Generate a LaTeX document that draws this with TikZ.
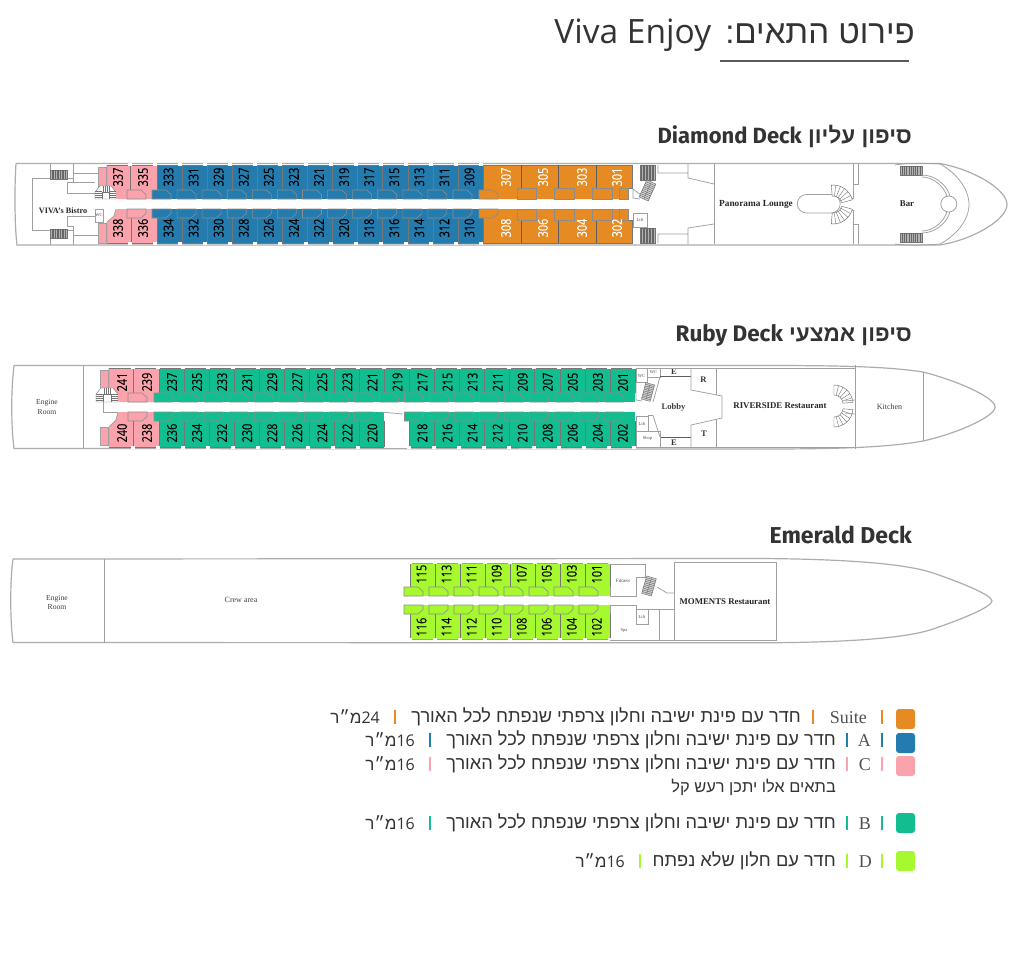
\documentclass[tikz,border=0pt]{standalone}
\usepackage{fontspec}
\usetikzlibrary{calc}
\TeXXeTstate=1
\setmainfont{Liberation Serif}
\newfontfamily\hebf[Script=Hebrew]{Liberation Sans}
\newfontfamily\latf{Open Sans}
\newfontfamily\headf{Fira Sans}
\newfontfamily\numf[FakeStretch=0.8,FakeBold=0.1]{Open Sans}
\definecolor{cOr}{HTML}{E68A23}
\definecolor{cBl}{HTML}{237BAE}
\definecolor{cPk}{HTML}{FBA3AC}
\definecolor{cGr}{HTML}{12BE90}
\definecolor{cLi}{HTML}{A6F92E}
\definecolor{hullc}{HTML}{ADADAD}
\definecolor{wallc}{HTML}{A0A0A0}
\definecolor{divc}{HTML}{767676}
\definecolor{inkc}{HTML}{333333}
\tikzset{
  hull/.style={draw=hullc,line width=1.2pt},
  wall/.style={draw=wallc,line width=0.75pt},
  divl/.style={draw=divc,line width=0.6pt},
  darkw/.style={draw=divc!80!black,line width=0.85pt},
  bathb/.style={draw=black!45,line width=0.6pt},
  num/.style={rotate=90,font=\numf\fontsize{13.6}{14}\selectfont,inner sep=0pt},
  roomb/.style={font=\bfseries\fontsize{8.8}{9}\selectfont,inner sep=0pt,text=black!85},
  roomr/.style={font=\fontsize{7.6}{8.6}\selectfont,inner sep=0pt,align=center,text=black!75},
  rooms/.style={font=\fontsize{4.5}{5}\selectfont,inner sep=0pt,text=black!70},
  letter/.style={font=\bfseries\fontsize{8.5}{9}\selectfont,inner sep=0pt,text=black!80},
  head/.style={anchor=east,inner sep=0pt,text=inkc},
  lgh/.style={anchor=east,inner sep=0pt,text=inkc,font=\hebf\fontsize{18.2}{20}\selectfont},
  lgl/.style={anchor=east,inner sep=0pt,text=inkc!85,font=\fontsize{18}{20}\selectfont},
  lgm/.style={anchor=east,inner sep=0pt,text=inkc,font=\fontsize{16}{18}\selectfont},
}
\newcommand\bath[4]{% x, inner y, edge y, colour
  \draw[bathb,fill=#4] (#1,#2) -- ({#1+14},#2) -- ({#1+19},{(#2+#3)/2}) -- ({#1+19},#3) -- (#1,#3) -- cycle;}
\newcommand\tick[2]{\fill[white] ({#1-2},{#2-1.2}) rectangle ({#1+2},{#2+1.2});}
\newcommand\stairsh[4]{% x,y,w,h
  \draw[draw=black!55,fill=black!30,line width=0.4pt] (#1,#2) rectangle ({#1+#3},{#2+#4});
  \foreach \i in {1,...,9}{\draw[black!60,line width=0.3pt] ({#1+#3*\i/10},#2) -- ({#1+#3*\i/10},{#2+#4});}}
\newcommand\stairsr[5]{% cx,cy,angle,w,h
  \begin{scope}[shift={(#1,#2)},rotate=#3]
    \draw[black!60,fill=black!18,line width=0.4pt] ({-#4/2},{-#5/2}) rectangle ({#4/2},{#5/2});
    \foreach \i in {1,...,9}{\draw[black!65,line width=0.35pt] ({-#4/2+#4*\i/10},{-#5/2}) -- ({-#4/2+#4*\i/10},{#5/2});}
    \draw[black!60,line width=0.3pt] ({-#4/2},0) -- ({#4/2},0);
  \end{scope}}
\newcommand\fan[6]{% cx,cy,r1,r2,a1,a2
  \draw[black!60,line width=0.4pt,fill=white] ($(#1,#2)+(#5:#3)$) arc[start angle=#5,end angle=#6,radius=#3] -- ($(#1,#2)+(#6:#4)$) arc[start angle=#6,end angle=#5,radius=#4] -- cycle;
  \foreach \i in {1,...,5}{\draw[black!60,line width=0.35pt] ($(#1,#2)+({#5+(#6-#5)*\i/6}:#3)$) -- ($(#1,#2)+({#5+(#6-#5)*\i/6}:#4)$);}}
\newcommand\spiral[4]{% x y w h rounded stair block
  \draw[black!55,line width=0.4pt,fill=white] (#1,{#2+#4}) -- (#1,{#2+6}) -- ({#1+5},#2) -- ({#1+#3-5},#2) -- ({#1+#3},{#2+6}) -- ({#1+#3},{#2+#4}) -- cycle;
  \foreach \i in {1,2,3,4}{\draw[black!55,line width=0.3pt] (#1,{#2+#4-\i*2}) -- ({#1+7},{#2+#4-\i*2});\draw[black!55,line width=0.3pt] ({#1+#3-7},{#2+#4-\i*2}) -- ({#1+#3},{#2+#4-\i*2});}
  \foreach \i in {8,10,12,14}{\draw[black!55,line width=0.3pt] ({#1+\i},#2) -- ({#1+\i},{#2+6});}
  \draw[black!55,line width=0.4pt] ({#1+7},{#2+6}) -- ({#1+#3-7},{#2+6}) ({#1+7},{#2+6}) -- ({#1+7},{#2+#4}) ({#1+#3-7},{#2+6}) -- ({#1+#3-7},{#2+#4});}
\newcommand\cabrow[6]{% list,x0,step,y,colour of text,unused
  \foreach \n [count=\k from 0] in {#1}{\node[num,text=#5] (c\n) at ({#2+#3*\k},#4) {\n};}}
\newcommand\dividers[5]{% x0,step,count,y1,y2
  \foreach \k in {0,...,#3}{\draw[divl] ({#1+#2*\k},#4) -- ({#1+#2*\k},#5);}}
\newcommand\ticks[4]{\foreach \k in {0,...,#3}{\tick{#1+#2*\k}{#4}}}
\newcommand\hebsuite{חדר עם פינת ישיבה וחלון צרפתי שנפתח לכל האורך}
\begin{document}
\begin{tikzpicture}[x=1pt,y=-1pt]
\useasboundingbox (0,0) rectangle (1016,970);
\fill[white] (0,0) rectangle (1016,970);
% ===== heading
\node[head,font=\hebf\fontsize{33}{36}\selectfont] (title) at (915,35) {\beginR פירוט התאים:\ \hspace{5pt}\beginL{\latf\fontsize{33.5}{36}\selectfont Viva Enjoy}\endL\endR};
\coordinate (ula) at (720,61); \coordinate (ulb) at (909,61);
\draw[black!65,line width=1.1pt] (ula) -- (ulb);
\node[head,font=\hebf\bfseries\fontsize{22.5}{24}\selectfont] (hA) at (912,136) {\beginR סיפון עליון \beginL{\headf\bfseries\fontsize{22}{24}\selectfont Diamond Deck}\endL\endR};
\node[head,font=\hebf\bfseries\fontsize{22.5}{24}\selectfont] (hB) at (912,335.5) {\beginR סיפון אמצעי \beginL{\headf\bfseries\fontsize{22.5}{24}\selectfont Ruby Deck}\endL\endR};
\node[head,font=\headf\bfseries\fontsize{23}{24}\selectfont] (hC) at (912,534.5) {Emerald Deck};

% ===== DIAMOND DECK
\draw[hull] (16,163.5) -- (940,163.5) .. controls (975,170) and (1007,190) .. (1007,204.5) .. controls (1007,219) and (975,239) .. (940,245) -- (17,245) .. controls (14.5,225) and (14.5,185) .. (16,163.5);
\draw[wall] (895,165) .. controls (905,163) and (925,163) .. (940,164) .. controls (955,172) and (969,188) .. (969,204.5) .. controls (969,221) and (955,236) .. (940,244) .. controls (925,245.5) and (905,245.5) .. (895,244);
% left part
\draw[wall] (50,164) -- (50,178) (32,178) -- (50,178) (32,178) -- (32,230) -- (50,230) -- (50,245);
\draw[wall] (67,178) -- (73,178) (73,164) -- (73,182) -- (67,182) -- (67,193) -- (95,193) (73,173) -- (98,173) (73,182) -- (95,182);
\draw[wall] (67,230) -- (73,230) (73,245) -- (73,226) -- (67,226) -- (67,216) -- (95,216) (73,235) -- (98,235);
\stairsh{50}{170}{17}{9}
\stairsh{50}{229}{17}{9}
\node[roomb,font=\bfseries\fontsize{8.2}{9}\selectfont] (bistro) at (63,211) {VIVA's Bistro};
\draw[wall,fill=white] (95,209) rectangle (103,222);
\node[rooms] (wcA) at (99,215.5) {WC};
% pink zone
\fill[cPk] (98,167) rectangle (106,188);
\fill[cPk] (98,223) rectangle (106,243);
\draw[wall] (98,167) rectangle (106,188) (98,223) rectangle (106,243);
\fill[cPk,rounded corners=1.5pt] (107,165) -- (107,187) -- (114,192) -- (116,199) -- (157,199) -- (157,165) -- cycle;
\fill[cPk,rounded corners=1.5pt] (116,209) -- (114,216) -- (107,222) -- (107,243) -- (157,243) -- (157,209) -- cycle;
\draw[wall] (107,165) -- (107,187) -- (114,192) -- (116,199) (116,209) -- (114,216) -- (107,222) -- (107,243);
% blue and orange bodies
\fill[cBl] (157,165) rectangle (483,199);
\fill[cBl] (157,209) rectangle (483,243);
\fill[cOr] (483,165) -- (632.5,165) -- (632.5,188) -- (628,188) -- (628,199) -- (483,199) -- cycle;
\fill[cOr] (483,209) -- (628,209) -- (628,220) -- (632.5,220) -- (632.5,243) -- (483,243) -- cycle;
\draw[divl] (483,165) -- (632.5,165) -- (632.5,188) -- (628,188) -- (628,199);
\draw[divl] (483,243) -- (632.5,243) -- (632.5,220) -- (628,220) -- (628,209);
\draw[divl] (130,165) -- (130,190) (131,218) -- (131,243) (157,165) -- (157,190);
\dividers{157}{25.08}{13}{165}{190}
\dividers{157}{25.08}{13}{218}{243}
\draw[divl] (107,165) -- (483,165) (107,243) -- (483,243);
\foreach \p in {521,558,596}{\draw[darkw] (\p,165) -- (\p,188) (\p,220) -- (\p,243);}
\ticks{130}{25.08}{14}{164.5}
\ticks{130}{25.08}{14}{243.5}
\foreach \k in {0,...,12}{\bath{152+25.08*\k}{190}{199}{cBl}\bath{152+25.08*\k}{218}{209}{cBl}}
\bath{127}{190}{199}{cPk}
\bath{127}{218}{209}{cPk}
\bath{479}{190}{199}{cOr}
\bath{479}{218}{209}{cOr}
\foreach \a/\b in {517/536,554/574,592/612,619/628}{\draw[bathb,fill=cOr] (\a,188) rectangle (\b,199);\draw[bathb,fill=cOr] (\a,220) rectangle (\b,209);}
\spiral{95}{186}{21}{13}
\cabrow{337,335}{118}{25}{177}{black}{}
\cabrow{338,336}{118}{25}{228}{black}{}
\cabrow{333,331,329,327,325,323,321,319,317,315,313,311,309}{168.5}{25.08}{177}{black}{}
\cabrow{334,332,330,328,326,324,322,320,318,316,314,312,310}{168.5}{25.08}{228}{black}{}
\node[num,text=white] (c307) at (506,177) {307};
\node[num,text=white] (c305) at (543,177) {305};
\node[num,text=white] (c303) at (582,177) {303};
\node[num,text=white] (c301) at (617,177) {301};
\node[num,text=white] (c308) at (506,228) {308};
\node[num,text=white] (c306) at (543,228) {306};
\node[num,text=white] (c304) at (582,228) {304};
\node[num,text=white] (c302) at (617,228) {302};
% right part
\stairsh{640}{165}{15}{15}
\stairsh{640}{228}{15}{15}
\stairsr{647.5}{190.5}{66}{18.6}{10}
\draw[wall] (633,189) -- (633,198) -- (640,199) (633,189) -- (641,195);
\draw[wall,fill=white] (633,213) rectangle (647,227);
\node[rooms] (liftA) at (640,220) {Lift};
\draw[wall] (658,165) -- (658,173) -- (688,173) (688,164) -- (688,178) -- (714,184);
\draw[wall] (658,243) -- (658,234) -- (688,234) (688,244) -- (688,228) -- (714,224);
\draw[wall] (714,164) -- (714,244) (853,164) -- (853,198) -- (846,198) (853,244) -- (853,210) -- (846,210);
\draw[wall] (858,164) -- (858,184) -- (853,184) (858,244) -- (858,224) -- (853,224);
\draw[wall] (806.5,194.5) -- (831,194.5) arc[start angle=-90,end angle=90,radius=9.25] -- (806.5,213) arc[start angle=90,end angle=270,radius=9.25];
\fan{833}{205}{9}{20}{-95}{-15}
\fan{833}{204}{9}{20}{15}{95}
\node[roomb,font=\bfseries\fontsize{9.3}{10}\selectfont] (panor) at (756,204) {Panorama Lounge};
\node[roomb] (bar) at (907,204) {Bar};
\stairsh{900}{166}{22}{9}
\stairsh{900}{233}{22}{9}
\draw[wall] (948.8,204) circle[radius=8];
\draw[wall] (922,175) .. controls (935,175) and (947,185) .. (950,196);
\draw[wall] (922,177) .. controls (933,177) and (944,186) .. (947,196.5);
\draw[wall] (922,233) .. controls (935,233) and (947,223) .. (950,212);
\draw[wall] (922,231) .. controls (933,231) and (944,222) .. (947,211.5);

% ===== RUBY DECK
\draw[hull] (14,365.5) -- (760,365.5) .. controls (830,365.5) and (885,366) .. (923,372) .. controls (955,380) and (995,397) .. (995,407) .. controls (995,417) and (955,434) .. (923,441) .. controls (885,448) and (830,449) .. (760,449) -- (14,448.5) .. controls (11,425) and (11,390) .. (14,365.5);
\draw[wall] (83,366) -- (83,449) (855,365) -- (855,449) (923.5,372) -- (923.5,441);
\node[roomr] (er1) at (47,407) {Engine\\[1pt]Room};
\fill[cPk] (100,370) rectangle (108,388);
\fill[cPk] (100,427) rectangle (108,445);
\draw[wall] (100,370) rectangle (108,388) (100,427) rectangle (108,445);
\fill[cPk,rounded corners=1.5pt] (109,368) -- (109,388) -- (116,394) -- (118,402) -- (159,402) -- (159,368) -- cycle;
\fill[cPk,rounded corners=1.5pt] (118,412) -- (116,420) -- (109,427) -- (109,447) -- (159,447) -- (159,412) -- cycle;
\draw[wall] (109,368) -- (109,388) (118,412) -- (116,420) -- (109,427) -- (109,447);
\fill[cGr] (159,368) rectangle (635,402);
\fill[cGr] (159,412) rectangle (384,447);
\fill[cGr] (409,412) rectangle (635,447);
\draw[divl] (109,368) -- (635,368) (109,447) -- (384,447) (409,447) -- (635,447) (133,368) -- (133,393) (133,421) -- (133,447);
\draw[divl] (384,421) -- (384,447) (409,421) -- (409,447);
\dividers{159}{25.05}{19}{368}{393}
\foreach \k in {0,...,9}{\draw[divl] ({159+25.05*\k},421) -- ({159+25.05*\k},447);}
\foreach \k in {10,...,19}{\draw[divl] ({159+25.05*\k},421) -- ({159+25.05*\k},447);}
\ticks{133}{25.05}{20}{367.5}
\foreach \k in {0,...,9}{\tick{133+25.05*\k}{447.5}}
\foreach \k in {11,...,20}{\tick{133+25.05*\k}{447.5}}
\foreach \k in {0,...,18}{\bath{154+25.05*\k}{393}{402}{cGr}}
\foreach \k in {0,...,8}{\bath{154+25.05*\k}{421}{412}{cGr}}
\foreach \k in {10,...,18}{\bath{154+25.05*\k}{421}{412}{cGr}}
\bath{128}{393}{402}{cPk}
\bath{128}{421}{412}{cPk}
\spiral{96}{388}{22}{14}
\draw[wall] (103,402) -- (103,412) -- (118,412);
\draw[wall] (381,412) -- (403,414);
\cabrow{241,239}{122}{25}{382}{black}{}
\cabrow{240,238}{122}{25}{433}{black}{}
\cabrow{237,235,233,231,229,227,225,223,221,219,217,215,213,211,209,207,205,203,201}{172}{25.05}{382}{black}{}
\cabrow{236,234,232,230,228,226,224,222,220}{172}{25.05}{433}{black}{}
\cabrow{218,216,214,212,210,208,206,204,202}{422.4}{25.05}{433}{black}{}
% ruby right
\draw[wall,fill=white] (636,368) rectangle (647,382);
\draw[wall,fill=white] (647,368) rectangle (660,377);
\node[rooms] (wcB) at (641.5,376) {WC};
\node[rooms] (wcC) at (653.5,372.5) {WC};
\stairsr{648}{392}{75}{17}{9}
\draw[wall] (636,382) -- (636,400) -- (642,401) (660,377) -- (653,402);
\draw[darkw] (660,376.5) -- (691,376.5) (660,437) -- (691,437);
\node[letter] (e1) at (674,371.5) {E};
\node[letter] (e2) at (674,442.5) {E};
\draw[wall] (691,368) -- (691,390) -- (722,396) -- (722,418) -- (691,425) -- (691,447);
\draw[wall] (716,368) -- (716,394.8) (716,419.3) -- (716,447);
\draw[wall] (660,447) -- (855,447) (660,368) -- (855,368);
\node[letter] (r1) at (703.5,380) {R};
\node[letter] (t1) at (704,434) {T};
\draw[wall,fill=white] (636,416) rectangle (648,431);
\draw[wall,fill=white] (636,431) rectangle (660,447);
\draw[wall] (648,415.5) -- (653,415.5) -- (660,437);
\node[rooms] (liftB) at (642,423.5) {Lift};
\node[rooms] (shop) at (647.5,438) {Shop};
\node[roomr,font=\bfseries\fontsize{8.6}{9}\selectfont] (lobby) at (673.5,407.5) {Lobby};
\node[roomb] (river) at (780,406) {RIVERSIDE Restaurant};
\node[roomr,font=\fontsize{8}{9}\selectfont] (kit) at (889.5,406.5) {Kitchen};
\fan{834}{404}{9}{19}{-90}{-5}
\fan{834}{408}{9}{19}{5}{90}
\draw[wall] (845,401) -- (855,400) (845,413) -- (855,414);
% ===== EMERALD DECK
\draw[hull] (13,559) -- (760,558.5) .. controls (840,559) and (900,563) .. (930,572) .. controls (960,582) and (992,595) .. (992,601) .. controls (992,607) and (960,620) .. (930,630) .. controls (900,639) and (840,642.5) .. (760,642.8) -- (13,642.5) .. controls (10,620) and (10,580) .. (13,559);
\draw[wall] (104,559) -- (104,642.5);
\node[roomr] (er2) at (57,602.5) {Engine\\[1pt]Room};
\node[roomr,font=\fontsize{8}{9}\selectfont] (crew) at (241,600) {Crew area};
\fill[cLi] (410,563) rectangle (610,596);
\fill[cLi] (410,605) rectangle (610,639);
\draw[wall] (410,563) -- (610,563) (410,639) -- (610,639) (610,563) -- (610,596) (610,639) -- (610,605);
\dividers{410}{25}{8}{563}{587}
\dividers{410}{25}{8}{614}{639}
\ticks{410}{25}{8}{562.5}
\ticks{410}{25}{8}{639.5}
\foreach \k in {0,...,7}{\bath{404+25*\k}{587}{596}{cLi}\bath{404+25*\k}{614}{605}{cLi}}
\cabrow{115,113,111,109,107,105,103,101}{421.5}{25.05}{574}{black}{}
\cabrow{116,114,112,110,108,106,104,102}{421.5}{25.05}{627}{black}{}
\draw[wall] (610,564) -- (645,564) -- (645,577) -- (636,577) -- (636,596) -- (610,596);
\draw[wall] (610,605) -- (636,605) -- (636,609) -- (674,609) (659,609) -- (659,640) (610,640) -- (674,640);
\draw[wall,fill=white] (636,609) rectangle (648,624);
\stairsr{649}{586}{74}{18}{10}
\draw[wall] (657,587) -- (667,593) -- (674,593);
\draw[wall] (674,562) rectangle (776,640);
\node[rooms,font=\fontsize{5}{5}\selectfont] (fit) at (623,581) {Fitness};
\node[rooms] (liftC) at (642,617) {Lift};
\node[rooms] (spa) at (624,630) {Spa};
\node[roomb] (mom) at (725,602) {MOMENTS Restaurant};
% ===== LEGEND
\foreach \y/\c in {719/cOr,743/cBl,766/cPk,823/cGr,861/cLi}{
  \fill[\c,rounded corners=3pt] (896,\y-10) rectangle (915,\y+10);}
\foreach \y/\c in {717/cOr,740/cBl,764/cPk,823/cGr,861/cLi}{\fill[\c] (881.2,\y-7) rectangle (883,\y+7);}
\fill[cOr] (812,710) rectangle (814,724);
\fill[cOr] (394,710) rectangle (396,724);
\node[lgl] (sL) at (867,718) {Suite};
\node[lgh] (sH) at (801,717) {\beginR\hebsuite\endR};
\node[lgm] (sM) at (380,717) {\beginR\beginL{\latf 24}\endL{\hebf\fontsize{17}{18}\selectfont מ״ר}\endR};
\foreach \y/\c/\t in {740/cBl/A,764/cPk/C,823/cGr/B}{
  \fill[\c] (846,\y-7) rectangle (848,\y+7);
  \fill[\c] (429,\y-7) rectangle (431,\y+7);
  \node[lgl] (l\t) at (871,\y+1) {\t};
  \node[lgh] (h\t) at (836,\y) {\beginR\hebsuite\endR};
  \node[lgm] (m\t) at (415,\y) {\beginR\beginL{\latf 16}\endL{\hebf\fontsize{17}{18}\selectfont מ״ר}\endR};
}
\node[lgh,font=\hebf\fontsize{16.4}{18}\selectfont] (sub) at (836,787) {\beginR בתאים אלו יתכן רעש קל\endR};
\fill[cLi] (846,854) rectangle (848,868);
\fill[cLi] (639,854) rectangle (641,868);
\node[lgl] (lD) at (872,862) {D};
\node[lgh] (hD) at (836,861) {\beginR חדר עם חלון שלא נפתח\endR};
\node[lgm] (mD) at (625,861) {\beginR\beginL{\latf 16}\endL{\hebf\fontsize{17}{18}\selectfont מ״ר}\endR};
\end{tikzpicture}
\end{document}
